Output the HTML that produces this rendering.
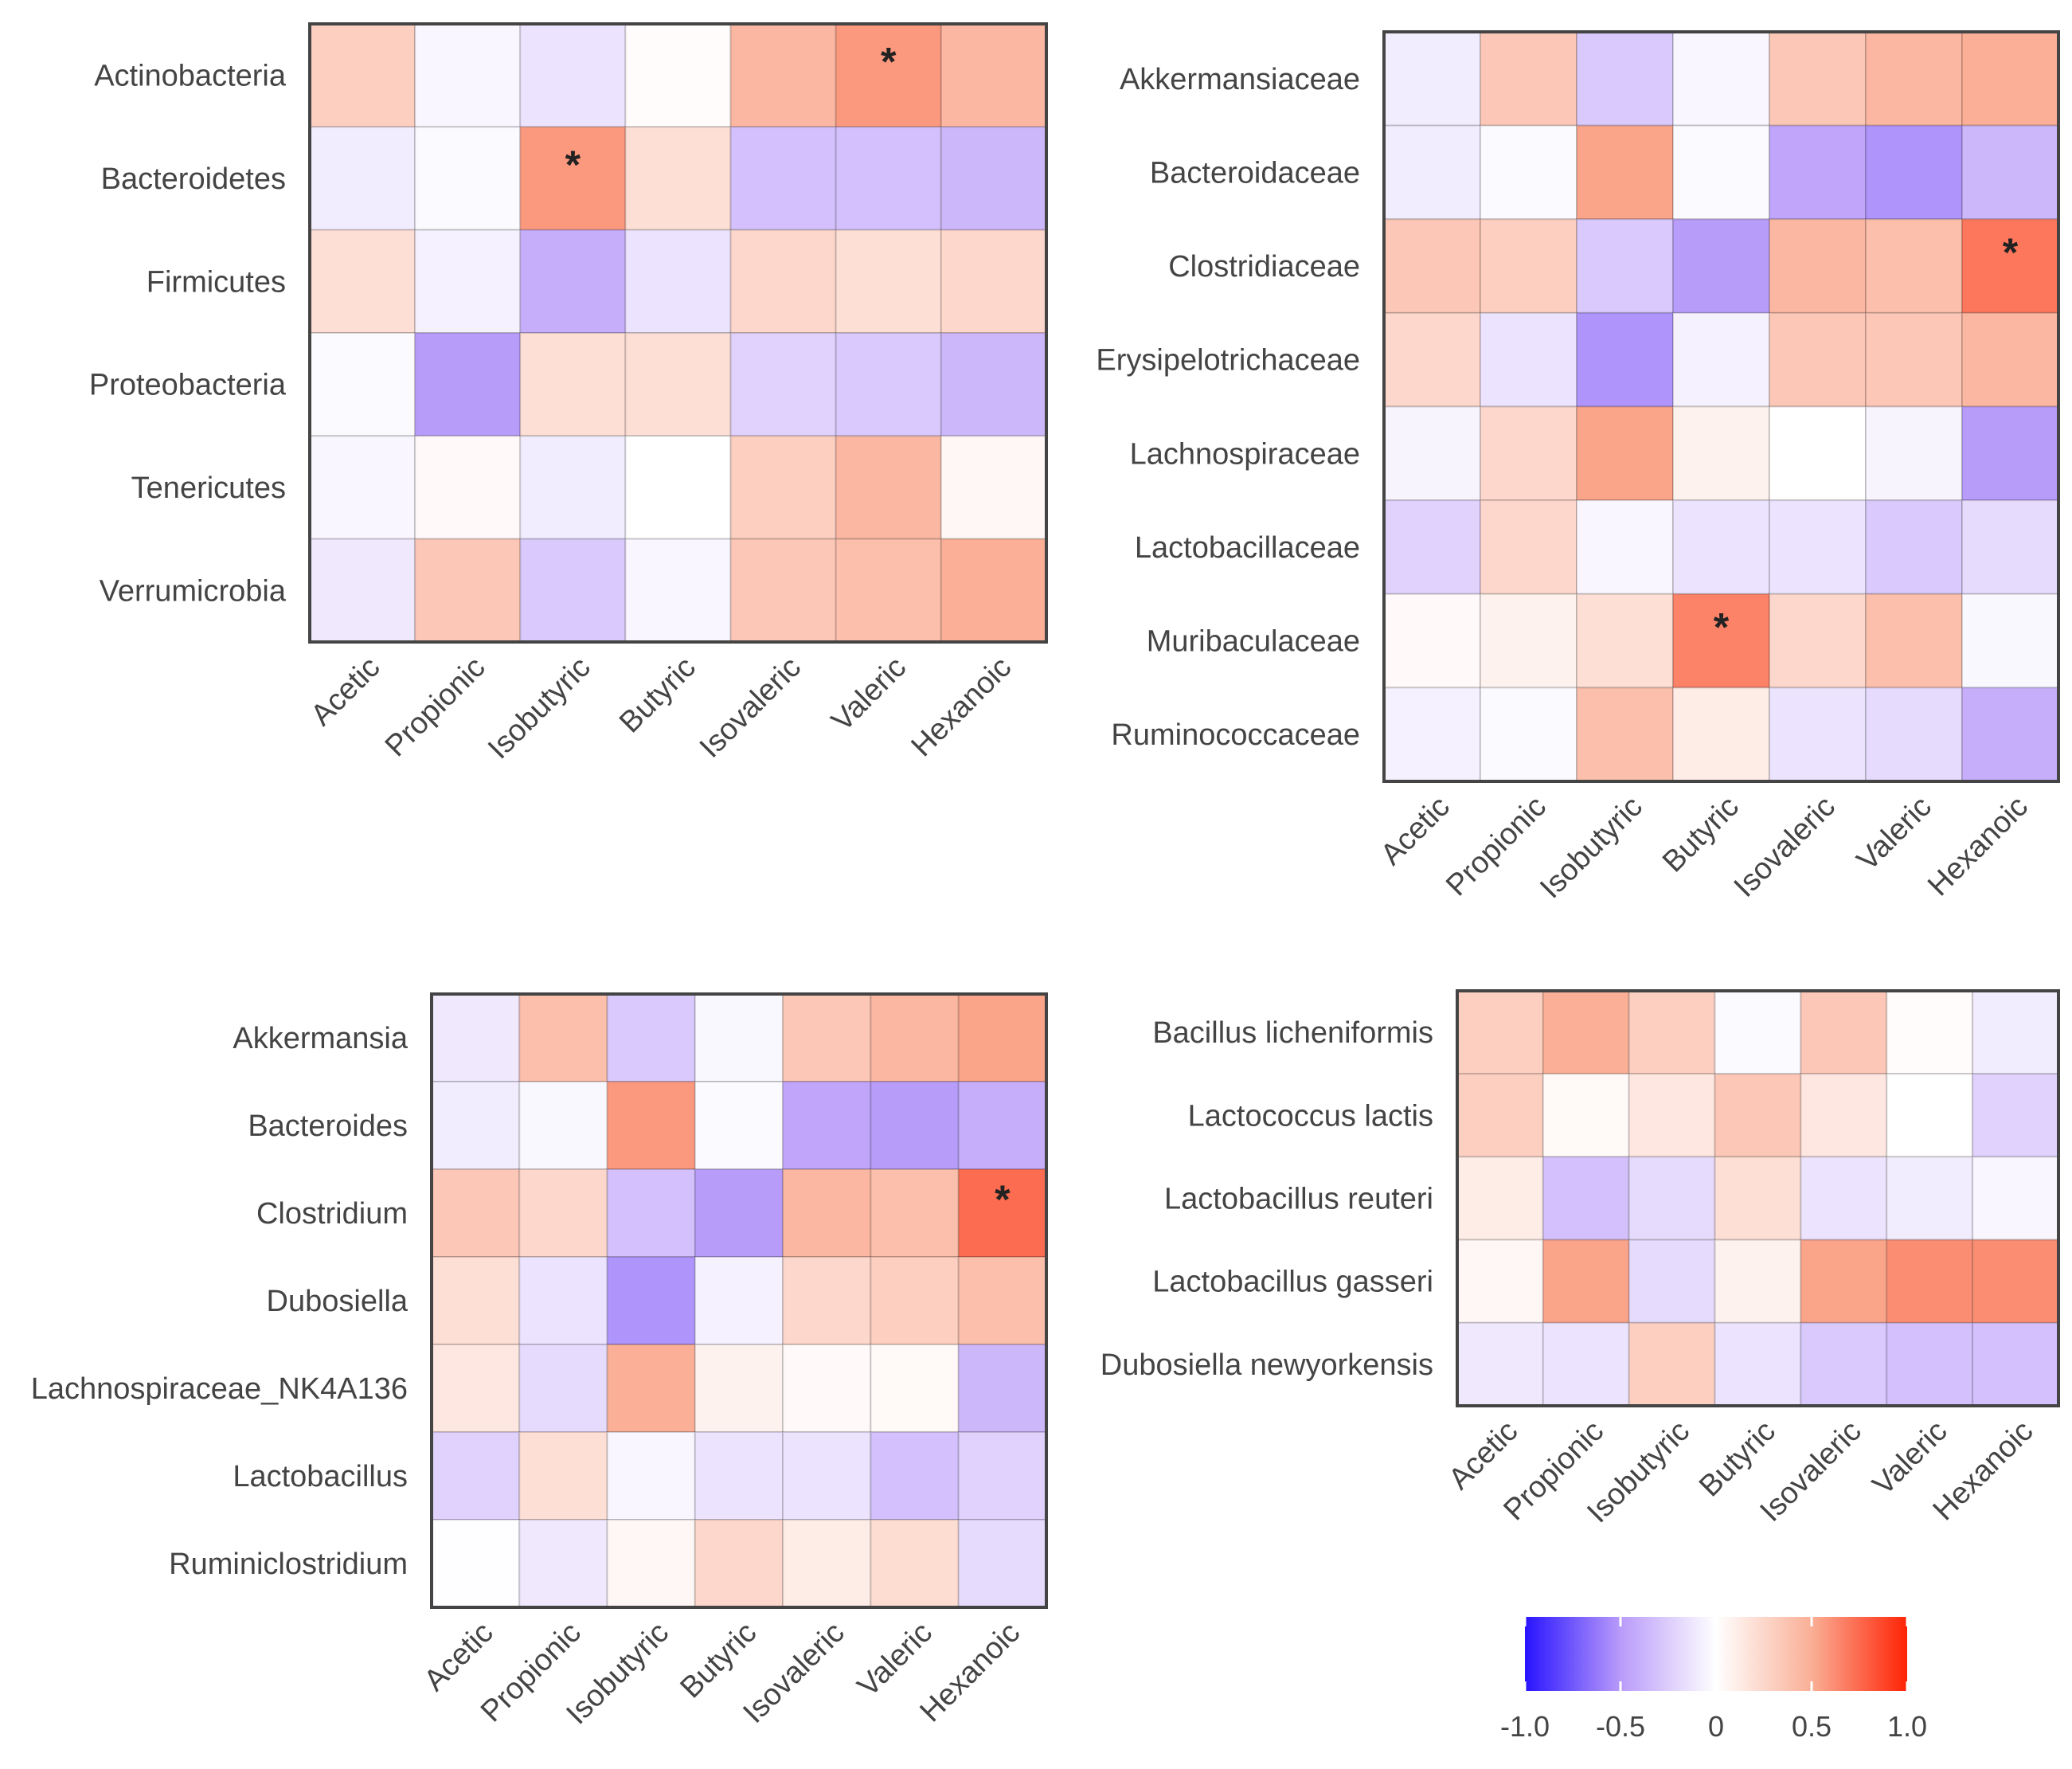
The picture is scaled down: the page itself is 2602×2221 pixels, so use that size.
<!DOCTYPE html>
<html><head><meta charset="utf-8"><style>
html,body{margin:0;padding:0;background:#fff;}
svg{display:block;font-family:"Liberation Sans",Arial,sans-serif;}
</style></head><body>
<svg id="chart" width="2602" height="2221" viewBox="0 0 2602 2221" xmlns="http://www.w3.org/2000/svg">
<defs>
<linearGradient id="cbgrad" x1="0" x2="1" y1="0" y2="0">
<stop offset="0" stop-color="rgb(40,20,255)"/>
<stop offset="0.25" stop-color="rgb(185,155,250)"/>
<stop offset="0.5" stop-color="rgb(255,255,255)"/>
<stop offset="0.75" stop-color="rgb(250,175,150)"/>
<stop offset="1" stop-color="rgb(255,35,5)"/>
</linearGradient>
</defs>
</svg>
<script>
const acids = ["Acetic","Propionic","Isobutyric","Butyric","Isovaleric","Valeric","Hexanoic"];

const phylumRows = ["Actinobacteria","Bacteroidetes","Firmicutes","Proteobacteria","Tenericutes","Verrumicrobia"];
const phylumVals = [
 [0.3,-0.05,-0.15,0.02,0.45,0.6,0.45],
 [-0.1,-0.03,0.6,0.2,-0.35,-0.35,-0.4],
 [0.2,-0.08,-0.45,-0.15,0.25,0.2,0.25],
 [-0.03,-0.55,0.2,0.2,-0.25,-0.3,-0.4],
 [-0.05,0.03,-0.1,0,0.3,0.45,0.05],
 [-0.12,0.35,-0.3,-0.05,0.35,0.4,0.5]];
const phylumStars = [[0,5],[1,2]];

const familyRows = ["Akkermansiaceae","Bacteroidaceae","Clostridiaceae","Erysipelotrichaceae","Lachnospiraceae","Lactobacillaceae","Muribaculaceae","Ruminococcaceae"];
const familyVals = [
 [-0.1,0.35,-0.3,-0.05,0.35,0.45,0.5],
 [-0.1,-0.03,0.55,-0.03,-0.5,-0.6,-0.4],
 [0.35,0.3,-0.3,-0.55,0.45,0.4,0.75],
 [0.25,-0.15,-0.6,-0.08,0.35,0.35,0.45],
 [-0.06,0.25,0.55,0.08,0,-0.06,-0.55],
 [-0.25,0.25,-0.05,-0.15,-0.15,-0.3,-0.2],
 [0.03,0.08,0.2,0.7,0.25,0.4,-0.04],
 [-0.08,-0.03,0.4,0.12,-0.15,-0.2,-0.45]];
const familyStars = [[2,6],[6,3]];

const genusRows = ["Akkermansia","Bacteroides","Clostridium","Dubosiella","Lachnospiraceae_NK4A136","Lactobacillus","Ruminiclostridium"];
const genusVals = [
 [-0.12,0.4,-0.3,-0.04,0.35,0.45,0.55],
 [-0.1,-0.04,0.6,-0.03,-0.5,-0.55,-0.45],
 [0.35,0.25,-0.35,-0.55,0.45,0.4,0.8],
 [0.2,-0.15,-0.6,-0.08,0.25,0.3,0.4],
 [0.15,-0.2,0.5,0.08,0.03,0.04,-0.4],
 [-0.25,0.2,-0.05,-0.15,-0.15,-0.35,-0.25],
 [-0.01,-0.12,0.05,0.25,0.12,0.22,-0.2]];
const genusStars = [[2,6]];

const speciesRows = ["Bacillus licheniformis","Lactococcus lactis","Lactobacillus reuteri","Lactobacillus gasseri","Dubosiella newyorkensis"];
const speciesVals = [
 [0.3,0.5,0.3,-0.03,0.35,0.02,-0.1],
 [0.3,0.04,0.15,0.35,0.15,0,-0.25],
 [0.12,-0.35,-0.2,0.2,-0.15,-0.1,-0.05],
 [0.05,0.55,-0.2,0.08,0.55,0.65,0.65],
 [-0.12,-0.15,0.3,-0.15,-0.3,-0.35,-0.35]];
const speciesStars = [];

const cbTicks = [-1.0,-0.5,0,0.5,1.0];
const cbTickLabels = ["-1.0","-0.5","0","0.5","1.0"];

const NS="http://www.w3.org/2000/svg";
const svg=document.getElementById('chart');
function mk(tag,attrs,parent){const e=document.createElementNS(NS,tag);for(const k in attrs)e.setAttribute(k,attrs[k]);(parent||svg).appendChild(e);return e;}
function lerp(a,b,t){return a.map((v,i)=>Math.round(v+(b[i]-v)*t));}
function color(v){
  v=Math.max(-1,Math.min(1,v));
  const W=[255,255,255],NB=[192,165,250],NF=[40,20,255],PB=[250,175,150],PF=[255,35,5];
  let c;
  if(v<0){const a=-v;c=a<=0.5?lerp(W,NB,a/0.5):lerp(NB,NF,(a-0.5)/0.5*0.6);}
  else{c=v<=0.5?lerp(W,PB,v/0.5):lerp(PB,PF,(v-0.5)/0.5*0.8);}
  return `rgb(${c[0]},${c[1]},${c[2]})`;
}

function panel(name,rows,vals,stars,x0,y0,x1,y1){
  const g=mk('g',{});
  
  
  const cw=(x1-x0)/acids.length, ch=(y1-y0)/rows.length;
  const xs=i=>x0+i*cw, ys=j=>y0+j*ch;
  rows.forEach((r,j)=>{
    acids.forEach((a,i)=>{
      const rc=mk('rect',{x:xs(i),y:ys(j),width:cw,height:ch,fill:color(vals[j][i]),stroke:'rgba(0,0,0,0.15)','stroke-width':2},g);
      
      
    });
    const t=mk('text',{x:x0-30,y:ys(j)+ch/2+13,'text-anchor':'end','font-size':38,fill:'#444'},g);
    t.textContent=r;
    
    
  });
  stars.forEach(([j,i])=>{
    const s=mk('text',{x:xs(i)+cw/2,y:ys(j)+ch/2,'text-anchor':'middle','font-size':50,'font-weight':'bold',fill:'#222'},g);
    s.textContent='*';
    
    
  });
  const b=mk('rect',{x:x0,y:y0,width:x1-x0,height:y1-y0,fill:'none',stroke:'#444','stroke-width':4},g);
  
  
  acids.forEach((a,i)=>{
    const cx=xs(i)+cw/2+24, cy=y1+34;
    const t=mk('text',{x:cx,y:cy,'text-anchor':'end','font-size':38,fill:'#444',transform:`rotate(-45 ${cx} ${cy})`},g);
    t.textContent=a;
    
    
  });
}

panel('phylum-heatmap',phylumRows,phylumVals,phylumStars,389,30,1314,806);
panel('family-heatmap',familyRows,familyVals,familyStars,1738,40,2585,981);
panel('genus-heatmap',genusRows,genusVals,genusStars,542,1248,1314,2018);
panel('species-heatmap',speciesRows,speciesVals,speciesStars,1830,1244,2585,1765);

const cbx0=1915,cbx1=2395,cby0=2030,cby1=2123;
const cg=mk('g',{});


const cb=mk('rect',{x:cbx0,y:cby0,width:cbx1-cbx0,height:cby1-cby0,fill:'url(#cbgrad)'},cg);


const cbScale=v=>cbx0+(v+1)/2*(cbx1-cbx0);
cbTicks.forEach((v,k)=>{
  const x=cbScale(v);
  mk('line',{x1:x,x2:x,y1:cby0,y2:cby0+12,stroke:'#fff','stroke-width':3},cg);
  mk('line',{x1:x,x2:x,y1:cby1-12,y2:cby1,stroke:'#fff','stroke-width':3},cg);
  const t=mk('text',{x:x,y:2180,'text-anchor':'middle','font-size':36,fill:'#444'},cg);
  t.textContent=cbTickLabels[k];
  
  
});
</script>
</body></html>
